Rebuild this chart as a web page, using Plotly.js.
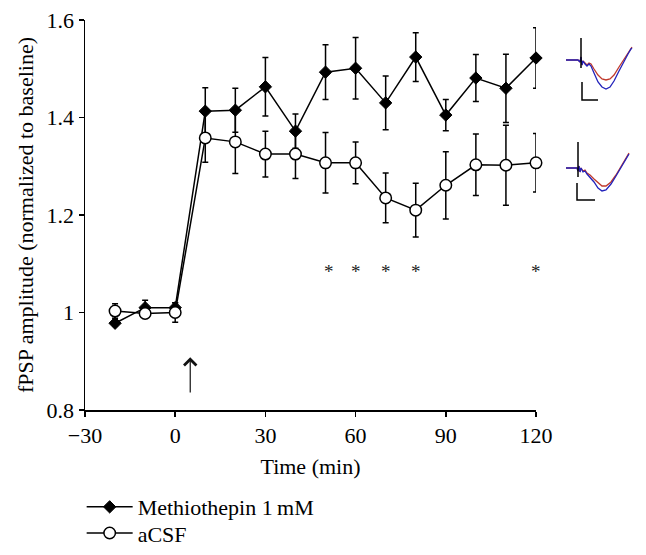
<!DOCTYPE html>
<html>
<head>
<meta charset="utf-8">
<script src="https://cdn.plot.ly/plotly-3.0.1.min.js"></script>
<style>html,body{margin:0;padding:0;background:#fff;}#chart{width:646px;height:555px;}</style>
</head>
<body>
<div id="chart"></div>
<script>
// Main data
const timeMin = [-20, -10, 0, 10, 20, 30, 40, 50, 60, 70, 80, 90, 100, 110, 120];
const methiothepin = [0.978, 1.01, 1.01, 1.413, 1.415, 1.463, 1.372, 1.493, 1.501, 1.430, 1.524, 1.405, 1.481, 1.460, 1.522];
const methiothepinSem = [0.005, 0.015, 0.01, 0.048, 0.045, 0.06, 0.035, 0.056, 0.063, 0.055, 0.05, 0.032, 0.048, 0.07, 0.062];
const acsf = [1.003, 0.998, 1.0, 1.358, 1.350, 1.325, 1.325, 1.307, 1.307, 1.235, 1.210, 1.261, 1.303, 1.302, 1.307];
const acsfSem = [0.015, 0.005, 0.02, 0.05, 0.065, 0.047, 0.05, 0.062, 0.043, 0.051, 0.055, 0.069, 0.063, 0.082, 0.06];
const sigTimes = [51, 60, 70, 80, 120];
const sigLevel = 1.085;
const stimTime = 5;
const stimArrow = [0.833, 0.908];
const xTickVals = [-30, 0, 30, 60, 90, 120];
const xTickText = ['\u221230', '0', '30', '60', '90', '120'];
const yTickVals = [0.8, 1.0, 1.2, 1.4, 1.6];
const yTickText = ['0.8', '1', '1.2', '1.4', '1.6'];

// Inset waveforms (arbitrary units)
const w1t = [0, 12, 14, 15, 16, 17, 19, 21, 23, 25, 28, 32, 36, 40, 44, 48, 53, 58, 62, 65, 66];
const w1Red = [0, 0, -2, 3, -5, -1, -3, -5, -3, -4, -9, -15, -19, -20, -19, -15, -7, 1, 7, 12, 13];
const w1Blue = [0, 0, -2, 3, -5, -1, -4, -6, -4, -6, -13, -22, -27, -29, -27, -21, -11, -1, 6, 11, 12];
const w1SpikeT = [15, 15];
const w1SpikeV = [22, -8];
const w1BarT = [16, 16, 32];
const w1BarV = [-22, -40, -40];

const w2t = [0, 11, 12, 13, 14, 15, 17, 19, 21, 24, 28, 32, 36, 40, 45, 50, 55, 59, 63];
const w2Red = [0, 0, -3, 2, -4, 0, -3, -2, -5, -7, -11, -15, -18, -18, -14, -7, 1, 8, 15];
const w2Blue = [0, 0, -3, 2, -4, 0, -4, -3, -6, -9, -14, -20, -23, -22, -16, -8, 1, 8, 14];
const w2SpikeT = [12, 12];
const w2SpikeV = [26, -9];
const w2BarT = [11, 11, 29];
const w2BarV = [-15, -32, -32];

const serif = 'Liberation Serif, Times New Roman, serif';
const red = '#c0392b';
const blue = '#2222bb';

const traces = [
  {
    x: timeMin, y: methiothepin, name: 'Methiothepin 1\u2009mM', type: 'scatter', mode: 'lines+markers',
    legend: 'legend',
    line: {color: '#000', width: 1.5},
    marker: {symbol: 'diamond', size: 9.5, color: '#000', line: {color: '#000', width: 1}},
    error_y: {type: 'data', array: methiothepinSem, visible: true, color: '#000', thickness: 1.5, width: 3},
    cliponaxis: false
  },
  {
    x: timeMin, y: acsf, name: 'aCSF', type: 'scatter', mode: 'lines+markers',
    legend: 'legend2',
    line: {color: '#000', width: 1.5},
    marker: {symbol: 'circle', size: 11.5, color: '#fff', line: {color: '#000', width: 1.5}},
    error_y: {type: 'data', array: acsfSem, visible: true, color: '#000', thickness: 1.5, width: 3},
    cliponaxis: false
  },
  // inset 1
  {x: w1t, y: w1Red, xaxis: 'x2', yaxis: 'y2', mode: 'lines', line: {color: red, width: 1.3}, showlegend: false, hoverinfo: 'skip'},
  {x: w1t, y: w1Blue, xaxis: 'x2', yaxis: 'y2', mode: 'lines', line: {color: blue, width: 1.3}, showlegend: false, hoverinfo: 'skip'},
  {x: w1SpikeT, y: w1SpikeV, xaxis: 'x2', yaxis: 'y2', mode: 'lines', line: {color: '#000', width: 1.5}, showlegend: false, hoverinfo: 'skip'},
  {x: w1BarT, y: w1BarV, xaxis: 'x2', yaxis: 'y2', mode: 'lines', line: {color: '#000', width: 1.5}, showlegend: false, hoverinfo: 'skip'},
  // inset 2
  {x: w2t, y: w2Red, xaxis: 'x3', yaxis: 'y3', mode: 'lines', line: {color: red, width: 1.3}, showlegend: false, hoverinfo: 'skip'},
  {x: w2t, y: w2Blue, xaxis: 'x3', yaxis: 'y3', mode: 'lines', line: {color: blue, width: 1.3}, showlegend: false, hoverinfo: 'skip'},
  {x: w2SpikeT, y: w2SpikeV, xaxis: 'x3', yaxis: 'y3', mode: 'lines', line: {color: '#000', width: 1.5}, showlegend: false, hoverinfo: 'skip'},
  {x: w2BarT, y: w2BarV, xaxis: 'x3', yaxis: 'y3', mode: 'lines', line: {color: '#000', width: 1.5}, showlegend: false, hoverinfo: 'skip'}
];

const annotations = sigTimes.map(t => ({
  x: t, y: sigLevel, xref: 'x', yref: 'y', text: '*', showarrow: false,
  font: {family: serif, size: 19, color: '#222'}, xanchor: 'center', yanchor: 'middle'
}));
annotations.push({
  x: stimTime, y: stimArrow[1], ax: stimTime, ay: stimArrow[0], xref: 'x', yref: 'y', axref: 'x', ayref: 'y',
  text: '', showarrow: true, arrowhead: 4, arrowsize: 2, arrowwidth: 1.2, arrowcolor: '#111'
});

const hidden = {visible: false, fixedrange: true};
const legendBase = {x: -0.006, xanchor: 'left', yanchor: 'top', bgcolor: 'rgba(0,0,0,0)', font: {family: serif, size: 22}, itemwidth: 46};

const layout = {
  width: 646, height: 555,
  margin: {l: 85, r: 5, t: 20, b: 145, autoexpand: false},
  paper_bgcolor: '#fff', plot_bgcolor: '#fff',
  font: {family: serif, size: 22, color: '#000'},
  showlegend: true,
  legend: Object.assign({y: -0.195}, legendBase),
  legend2: Object.assign({y: -0.262}, legendBase),
  xaxis: {
    domain: [0, 451 / 556], range: [-30, 120], showgrid: false, zeroline: false,
    showline: true, linecolor: '#000', linewidth: 1.5,
    ticks: 'outside', ticklen: 5, tickwidth: 1.5, tickcolor: '#000',
    tickvals: xTickVals, ticktext: xTickText, tickfont: {family: serif, size: 22},
    title: {text: 'Time (min)', font: {family: serif, size: 22}, standoff: 11}
  },
  yaxis: {
    range: [0.8, 1.6], showgrid: false, zeroline: false,
    showline: true, linecolor: '#000', linewidth: 1.5,
    ticks: 'outside', ticklen: 5, tickwidth: 1.5, tickcolor: '#000',
    tickvals: yTickVals, ticktext: yTickText, tickfont: {family: serif, size: 22},
    title: {text: 'fPSP amplitude (normalized to baseline)', font: {family: serif, size: 22}, standoff: 7}
  },
  xaxis2: Object.assign({domain: [481 / 556, 555 / 556], range: [0, 74], anchor: 'y2'}, hidden),
  yaxis2: Object.assign({domain: [308 / 390, 378 / 390], range: [-42, 28], anchor: 'x2'}, hidden),
  xaxis3: Object.assign({domain: [481 / 556, 555 / 556], range: [0, 74], anchor: 'y3'}, hidden),
  yaxis3: Object.assign({domain: [208 / 390, 270 / 390], range: [-34, 28], anchor: 'x3'}, hidden),
  annotations: annotations
};

Plotly.newPlot('chart', traces, layout, {displayModeBar: false, staticPlot: true});
</script>
</body>
</html>
